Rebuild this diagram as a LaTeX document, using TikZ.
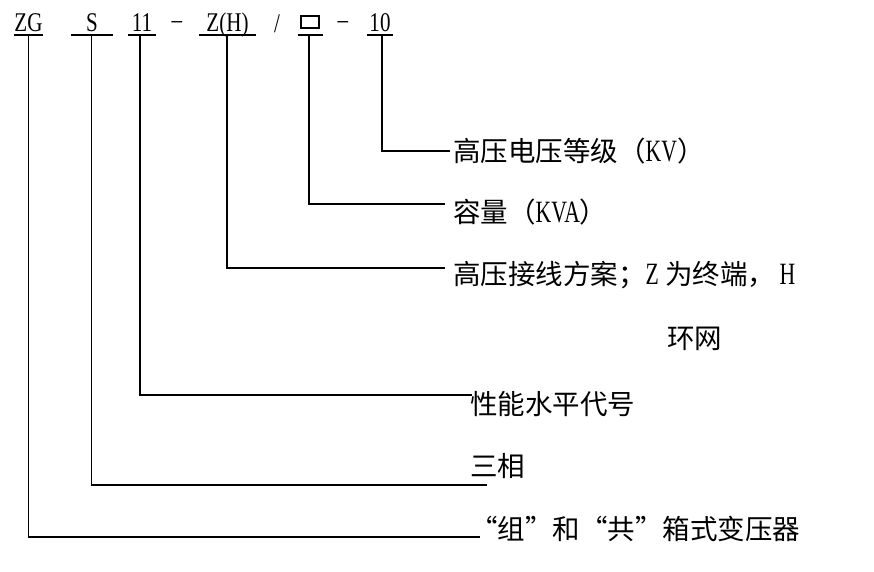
\documentclass[tikz,border=0pt]{standalone}
\usepackage{fontspec}
\newfontfamily\cjk{Noto Sans CJK SC}
\newfontfamily\lat[FakeStretch=0.78]{Liberation Serif}
\newfontfamily\latn[FakeStretch=0.7]{Liberation Serif}
\newcommand{\lw}[1]{{\latn\fontsize{31}{31}\selectfont #1}}
\tikzset{
  topt/.style={font=\lat\fontsize{27}{27}\selectfont, inner sep=0pt, text height=19pt, text depth=3pt, anchor=south},
  sym/.style={font=\lat\fontsize{27}{27}\selectfont, inner sep=0pt, anchor=base},
  lbl/.style={font=\cjk\fontsize{27.5}{27.5}\selectfont, inner sep=0pt, anchor=west},
  ul/.style={line width=1.2pt},
  hl/.style={line width=2pt},
  vthin/.style={line width=1pt},
  sqbox/.style={draw, line width=2.6pt, minimum width=18pt, minimum height=12pt, inner sep=0pt}
}
\begin{document}
\begin{tikzpicture}[x=1pt,y=-1pt]
\useasboundingbox (0,0) rectangle (874,571);
% top code row
\node[topt, minimum width=29pt] (zg) at (28.5,35) {ZG};
\node[topt, minimum width=42pt] (s) at (92,35) {S};
\node[topt, minimum width=28pt] (n11) at (142,35) {11};
\node[sym] (d1) at (177,28.5) {–};
\node[topt, minimum width=57pt] (zh) at (227.5,35) {Z(H)};
\node[sym] (sl) at (277,32) {/};
\node[topt, minimum width=25pt] (cap) at (310.5,35) {\phantom{0}};
\node[sqbox] (sq) at (310,22) {};
\node[sym] (d2) at (343,28.5) {–};
\node[topt, minimum width=26pt] (ten) at (380,35) {10};
% underlines
\foreach \n in {zg,s,n11,zh,cap,ten}
  \draw[ul] (\n.south west) -- (\n.south east);
% connector end points
\coordinate (e1) at (450,151);
\coordinate (e2) at (445,204);
\coordinate (e3) at (445,268);
\coordinate (e4) at (472,395);
\coordinate (e5) at (487,485);
\coordinate (e6) at (480,537);
\coordinate (tenx) at ([xshift=2pt]ten.south);
\coordinate (capx) at ([xshift=-1.5pt]cap.south);
\coordinate (zhx) at ([xshift=-0.5pt]zh.south);
\coordinate (n11x) at ([xshift=-2pt]n11.south);
\coordinate (sx) at ([xshift=-1pt]s.south);
\coordinate (zgx) at ([xshift=-0.5pt]zg.south);
% connectors
\draw[hl] (tenx) |- (e1);
\draw[hl] (capx) |- (e2);
\draw[hl] (zhx) |- (e3);
\draw[hl] (n11x) |- (e4);
\draw[vthin] (sx) -- (sx |- e5);
\draw[hl] (sx |- e5) -- (e5);
\draw[vthin] (zgx) -- (zgx |- e6);
\draw[hl] (zgx |- e6) -- (e6);
% labels
\node[lbl] (l1) at (453,151) {高压电压等级（\lw{KV}）};
\node[lbl] (l2) at (453,212) {容量（\lw{KVA}）};
\node[lbl] (l3) at (453,275) {高压接线方案；\lw{Z} 为终端，\,\lw{H}};
\node[lbl] (l3b) at (667,339) {环网};
\node[lbl] (l4) at (470,404) {性能水平代号};
\node[lbl] (l5) at (470,466) {三相};
\node[lbl] (l6) at (470,529) {“组”和“共”箱式变压器};
\end{tikzpicture}
\end{document}
